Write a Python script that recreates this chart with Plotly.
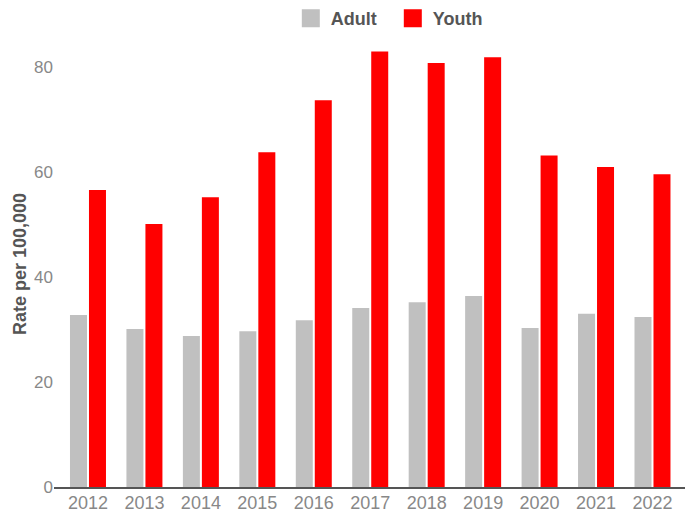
import plotly.graph_objects as go

years = ["2012", "2013", "2014", "2015", "2016", "2017", "2018", "2019", "2020", "2021", "2022"]
adult = [32.8, 30.1, 28.8, 29.7, 31.8, 34.1, 35.2, 36.4, 30.3, 33.0, 32.4]
youth = [56.6, 50.1, 55.2, 63.8, 73.7, 83.0, 80.8, 81.9, 63.2, 61.0, 59.6]
y_ticks = [0, 20, 40, 60, 80]

series = [("Adult", adult, "#c0c0c0"), ("Youth", youth, "#ff0000")]
font_family = "Liberation Sans, Arial, sans-serif"

fig = go.Figure()
for name, vals, color in series:
    fig.add_trace(go.Bar(name=name, x=years, y=vals, marker_color=color, marker_line_width=0,
                         legendgroup=name, showlegend=False))
# legend entries with larger square swatches
for name, vals, color in series:
    fig.add_trace(go.Scatter(name=name, x=[None], y=[None], mode="markers", legendgroup=name,
                             marker=dict(symbol="square", size=16, color=color,
                                         line=dict(color=color, width=2)),
                             showlegend=True, hoverinfo="skip"))

fig.update_layout(
    width=694, height=513,
    margin=dict(l=54, r=9, t=41, b=26, autoexpand=False),
    paper_bgcolor="white", plot_bgcolor="white",
    barmode="group", bargap=0.327, bargroupgap=0.105,
    font=dict(family=font_family, size=17, color="#888888"),
    legend=dict(orientation="h", x=0.566, xanchor="center", xref="container",
                y=1.0, yanchor="top", yref="container",
                font=dict(size=18, color="#555555", weight="bold"),
                itemwidth=30, entrywidth=57, entrywidthmode="pixels", traceorder="normal"),
    showlegend=True,
)
fig.update_xaxes(type="category", range=[-0.602, 10.576], showline=True, linecolor="#555555",
                 linewidth=2, showgrid=False, ticks="", ticklabelstandoff=-2,
                 tickfont=dict(size=18, color="#888888"))
fig.update_yaxes(range=[0, 85], tickvals=y_ticks, showgrid=False, zeroline=False, showline=False,
                 ticks="", tickfont=dict(size=17, color="#888888"),
                 title=dict(text="Rate per 100,000", font=dict(size=18, color="#555555", weight="bold"), standoff=2))

fig.write_html("out.html", config={"displayModeBar": False},
               post_script="document.body.style.margin='0';")
